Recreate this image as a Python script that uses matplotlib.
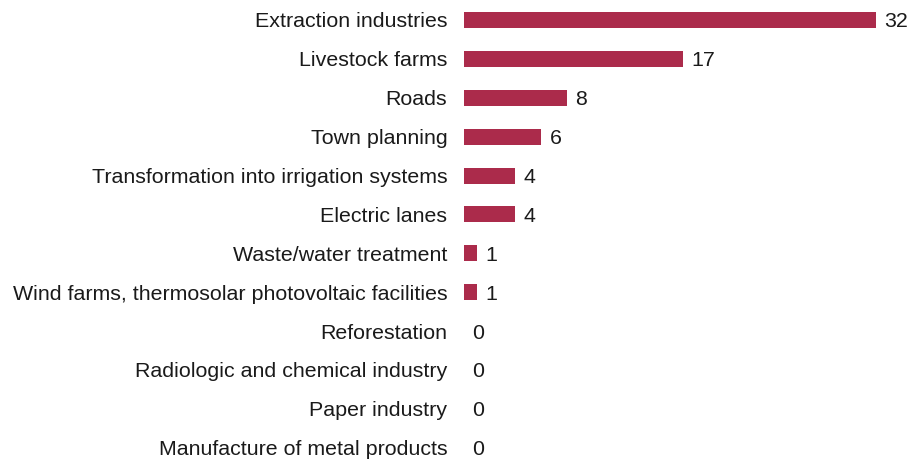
import numpy as np
import matplotlib.pyplot as plt

plt.rcParams['font.family'] = ['Liberation Sans', 'DejaVu Sans']

categories = ["Extraction industries", "Livestock farms", "Roads", "Town planning",
              "Transformation into irrigation systems", "Electric lanes",
              "Waste/water treatment", "Wind farms, thermosolar photovoltaic facilities",
              "Reforestation", "Radiologic and chemical industry", "Paper industry",
              "Manufacture of metal products"]
counts = [32, 17, 8, 6, 4, 4, 1, 1, 0, 0, 0, 0]

bar_color = "#ab2b4b"

fig = plt.figure(figsize=(9.1, 4.61), dpi=100)
ax = fig.add_axes([464 / 910, 0, (876 - 464) / 910, 1])

y = np.arange(len(categories))
ax.barh(y, counts, height=0.41, color=bar_color)

for yi, v in zip(y, counts):
    ax.annotate(str(v), (v, yi), xytext=(6, 0), textcoords="offset points",
                va="center_baseline", ha="left", fontsize=15.4, color="#1a1a1a",
                annotation_clip=False)

ax.set_xlim(0, 32)
ax.set_ylim(11.34, -0.514)
ax.set_yticks(y)
ax.set_yticklabels(categories, fontsize=15.4, color="#1a1a1a", va="center_baseline")
ax.tick_params(axis="y", length=0, pad=12)
ax.set_xticks([])
for s in ax.spines.values():
    s.set_visible(False)

fig.savefig("out.png", dpi=100)
